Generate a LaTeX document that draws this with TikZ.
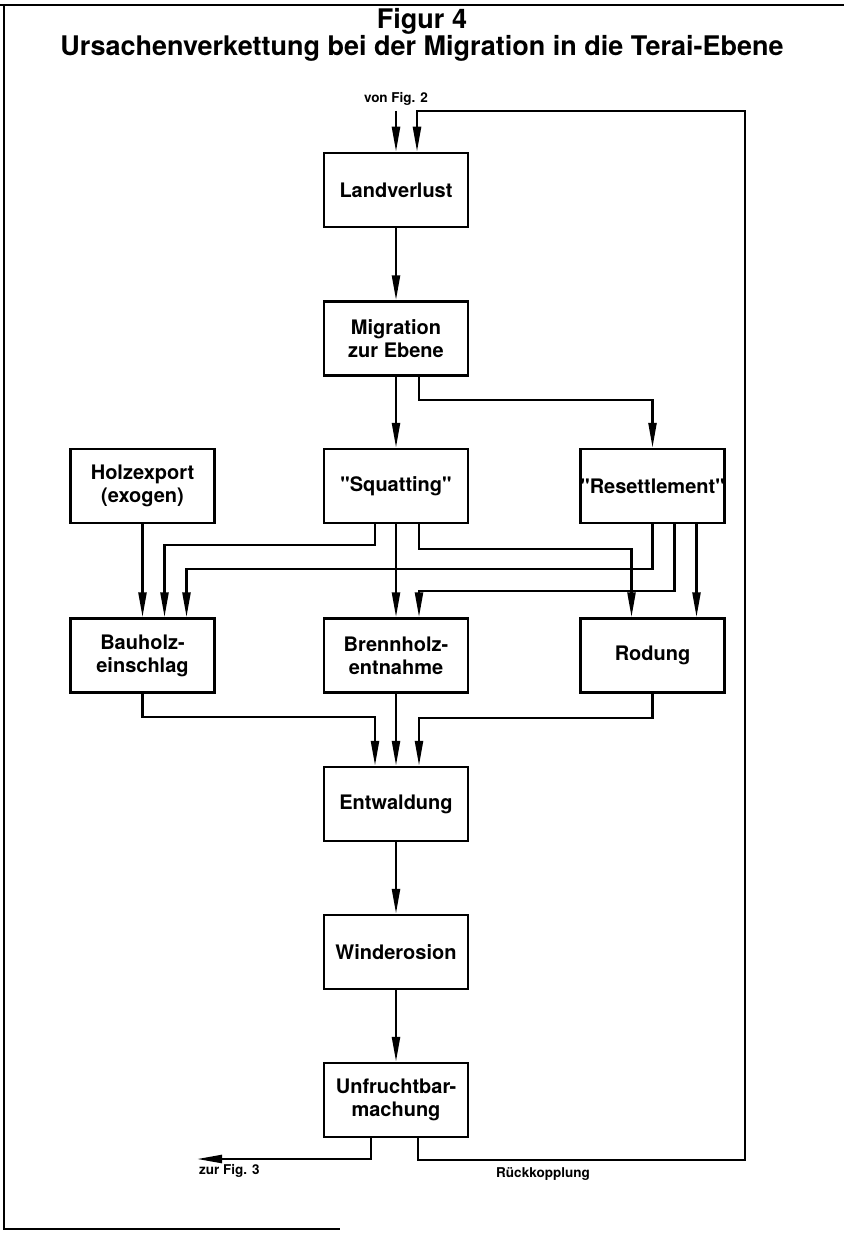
\documentclass[tikz,border=0pt]{standalone}
\usepackage{fontspec}
\setmainfont[Ligatures=TeXOff]{TeX Gyre Heros}
\usetikzlibrary{arrows.meta}
\tikzset{
  box/.style={draw, line width=2.5pt, minimum width=144pt, minimum height=74pt, inner sep=0pt, align=center, font=\fontsize{20}{23}\selectfont\bfseries},
  arr/.style={line width=2.4pt, -{Triangle[length=25pt,width=8pt]}},
  frame/.style={line width=2.6pt},
  titlef/.style={font=\fontsize{27}{30}\selectfont\bfseries},
  small/.style={font=\fontsize{13.5}{15}\selectfont\bfseries, inner sep=0pt}
}
\begin{document}
\begin{tikzpicture}[x=1pt,y=-1pt]
\useasboundingbox (0,0) rectangle (844,1233);
% frame
\coordinate (fTL) at (0,5);
\coordinate (fTR) at (844,5);
\coordinate (fL) at (4,5);
\coordinate (fBL) at (4,1229);
\coordinate (fBR) at (340,1229);
\draw[frame] (fTL) -- (fTR);
\draw[frame] (fL) -- (fBL) -- (fBR);
% titles
\node[titlef, anchor=base, inner sep=0pt] (t1) at (422,29) {Figur 4};
\node[titlef, anchor=base, inner sep=0pt] (t2) at (422,56) {Ursachenverkettung bei der Migration in die Terai-Ebene};
% boxes
\node[box] (land) at (396,190) {Landverlust};
\node[box] (mig) at (396,338.5) {Migration\\zur Ebene};
\node[box] (holz) at (142.5,486) {Holzexport\\(exogen)};
\node[box] (squat) at (396,486) {"Squatting"};
\node[box] (reset) at (652.5,486) {"Resettlement"};
\node[box] (bau) at (142.5,655.5) {Bauholz-\\einschlag};
\node[box] (brenn) at (396,655.5) {Brennholz-\\entnahme};
\node[box] (rod) at (652.5,655.5) {Rodung};
\node[box] (entw) at (396,804) {Entwaldung};
\node[box] (wind) at (396,952) {Winderosion};
\node[box] (unf) at (396,1100) {Unfruchtbar-\\machung};
% labels
\node[small, anchor=base] (von) at (396,103) {von Fig. 2};
\node[small, anchor=base west] (zur) at (199,1174) {zur Fig. 3};
\node[small, anchor=base] (rk) at (543,1177) {Rückkopplung};
% helper coordinates
\coordinate (vonstart) at (396,111);
\coordinate (zurend) at (197,1159);
\coordinate (fbBR) at (745,1160);
\coordinate (fbTR) at (745,111);
% connectors
\draw[arr] (vonstart) -- (vonstart |- land.north);
\draw[arr] (land.south) -- (mig.north);
\draw[arr] (mig.south) -- (squat.north);
\draw[arr] ([xshift=23pt]mig.south) -- ++(0,23) -| (reset.north);
\draw[arr] (holz.south) -- (bau.north);
\draw[arr] ([xshift=-21pt]squat.south) -- ++(0,21) -| ([xshift=22pt]bau.north);
\draw[arr] (squat.south) -- (brenn.north);
\draw[arr] ([xshift=23pt]squat.south) -- ++(0,25) -| ([xshift=-21pt]rod.north);
\draw[arr] (reset.south) -- ++(0,45) -| ([xshift=44pt]bau.north);
\draw[arr] ([xshift=22pt]reset.south) -- ++(0,67) -| ([xshift=23pt]brenn.north);
\draw[arr] ([xshift=44pt]reset.south) -- ([xshift=44pt]rod.north);
\draw[arr] (bau.south) -- ++(0,23) -| ([xshift=-21pt]entw.north);
\draw[arr] (brenn.south) -- (entw.north);
\draw[arr] (rod.south) -- ++(0,24) -| ([xshift=23pt]entw.north);
\draw[arr] (entw.south) -- (wind.north);
\draw[arr] (wind.south) -- (unf.north);
\draw[arr] ([xshift=-25pt]unf.south) |- (zurend);
\draw[arr] ([xshift=22pt]unf.south) |- (fbBR) -- (fbTR) -| ([xshift=21pt]land.north);
\end{tikzpicture}
\end{document}
